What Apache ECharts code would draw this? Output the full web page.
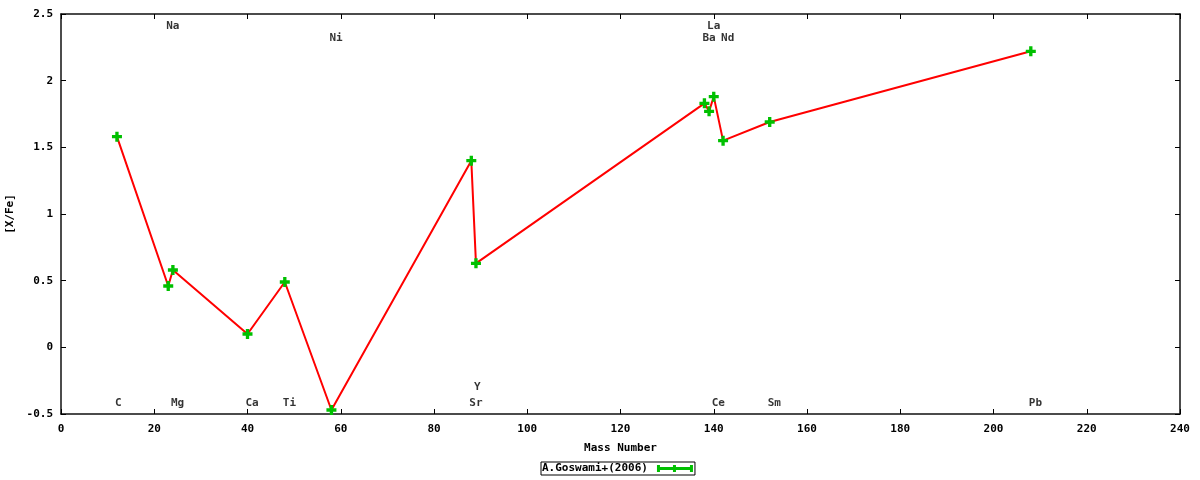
<!DOCTYPE html>
<html>
<head>
<meta charset="utf-8">
<script src="https://cdn.jsdelivr.net/npm/echarts@6/dist/echarts.min.js"></script>
<style>
  html, body { margin: 0; padding: 0; background: #fff; }
  #chart { width: 1200px; height: 480px; }
</style>
</head>
<body>
<div id="chart"></div>
<script>
// abundance pattern, A.Goswami+(2006)
var elements = ['C', 'Na', 'Mg', 'Ca', 'Ti', 'Ni', 'Sr', 'Y', 'Ba', 'La', 'Ce', 'Nd', 'Sm', 'Pb'];
var massNumbers = [12, 23, 24, 40, 48, 58, 88, 89, 138, 139, 140, 142, 152, 208];
var xFe = [1.58, 0.46, 0.58, 0.10, 0.49, -0.47, 1.40, 0.63, 1.83, 1.77, 1.88, 1.55, 1.69, 2.22];
var seriesName = 'A.Goswami+(2006)';

// which row each element label sits in (y in data units)
var labelRow = {
    C: -0.42, Mg: -0.42, Ca: -0.42, Ti: -0.42, Sr: -0.42, Ce: -0.42, Sm: -0.42, Pb: -0.42,
    Y: -0.30,
    Na: 2.41, La: 2.41,
    Ni: 2.32, Ba: 2.32, Nd: 2.32
};

var font = 'DejaVu Sans Mono';
var txt = { fontFamily: font, fontWeight: 'bold', fontSize: 11, color: '#000' };

var chartDom = document.getElementById('chart');
var myChart = echarts.init(chartDom);

var lineData = massNumbers.map(function (m, i) { return [m, xFe[i]]; });
var labelData = elements.map(function (el, i) { return { value: [massNumbers[i], labelRow[el]], name: el }; });

var plusIcon = 'path://M3,0H6V3H9V6H6V9H3V6H0V3H3Z';
var errIcon = 'path://M0,0H3V2H16V0H19V2H33V0H36V7H33V5H19V7H16V5H3V7H0Z';

var frame = { color: '#111', width: 1.5 };

var baseX = {
    type: 'value', min: 0, max: 240, interval: 20,
    axisLine: { show: true, onZero: false, lineStyle: frame },
    axisTick: { show: true, inside: true, length: 5, lineStyle: { color: '#000' } },
    splitLine: { show: false }
};
var baseY = {
    type: 'value', min: -0.5, max: 2.5, interval: 0.5,
    axisLine: { show: true, onZero: false, lineStyle: frame },
    axisTick: { show: true, inside: true, length: 5, lineStyle: { color: '#000' } },
    splitLine: { show: false }
};

var option = {
    animation: false,
    backgroundColor: '#fff',
    grid: { left: 61, right: 20, top: 14, bottom: 66, outerBoundsMode: 'none', containLabel: false },
    legend: {
        left: 541,
        top: 462,
        data: [{ name: seriesName, icon: errIcon, itemStyle: { color: '#00c000', borderWidth: 0 } }],
        align: 'right',
        itemWidth: 36,
        itemHeight: 7,
        itemGap: 4,
        padding: [1, 2, 1, 1],
        borderColor: '#000',
        borderWidth: 1,
        borderRadius: 0,
        itemStyle: { color: '#00c000', borderWidth: 0 },
        lineStyle: { width: 0 },
        textStyle: Object.assign({}, txt, { padding: [0, 4, 0, 0] })
    },
    xAxis: [
        Object.assign({}, baseX, {
            position: 'bottom',
            name: 'Mass Number',
            nameLocation: 'middle',
            nameGap: 29,
            nameTextStyle: txt,
            axisLabel: Object.assign({}, txt, { margin: 10 })
        }),
        Object.assign({}, baseX, { position: 'top', axisLabel: { show: false } })
    ],
    yAxis: [
        Object.assign({}, baseY, {
            position: 'left',
            name: '[X/Fe]',
            nameLocation: 'middle',
            nameGap: 39,
            nameRotate: 90,
            nameTextStyle: txt,
            axisLabel: Object.assign({}, txt, { margin: 8 })
        }),
        Object.assign({}, baseY, { position: 'right', axisLabel: { show: false } })
    ],
    series: [
        {
            name: seriesName,
            type: 'line',
            data: lineData,
            symbol: plusIcon,
            symbolSize: 10,
            showAllSymbol: true,
            legendIcon: errIcon,
            itemStyle: { color: '#00c000' },
            lineStyle: { color: '#ff0000', width: 2 },
            z: 3
        },
        {
            name: 'labels',
            type: 'scatter',
            data: labelData,
            symbolSize: 0,
            silent: true,
            label: {
                show: true,
                position: 'inside',
                align: 'left',
                verticalAlign: 'middle',
                offset: [-2, 0],
                formatter: function (p) { return p.name; },
                fontFamily: font,
                fontWeight: 'bold',
                fontSize: 11,
                color: '#000'
            },
            z: 4
        }
    ]
};

option && myChart.setOption(option);
</script>
</body>
</html>
